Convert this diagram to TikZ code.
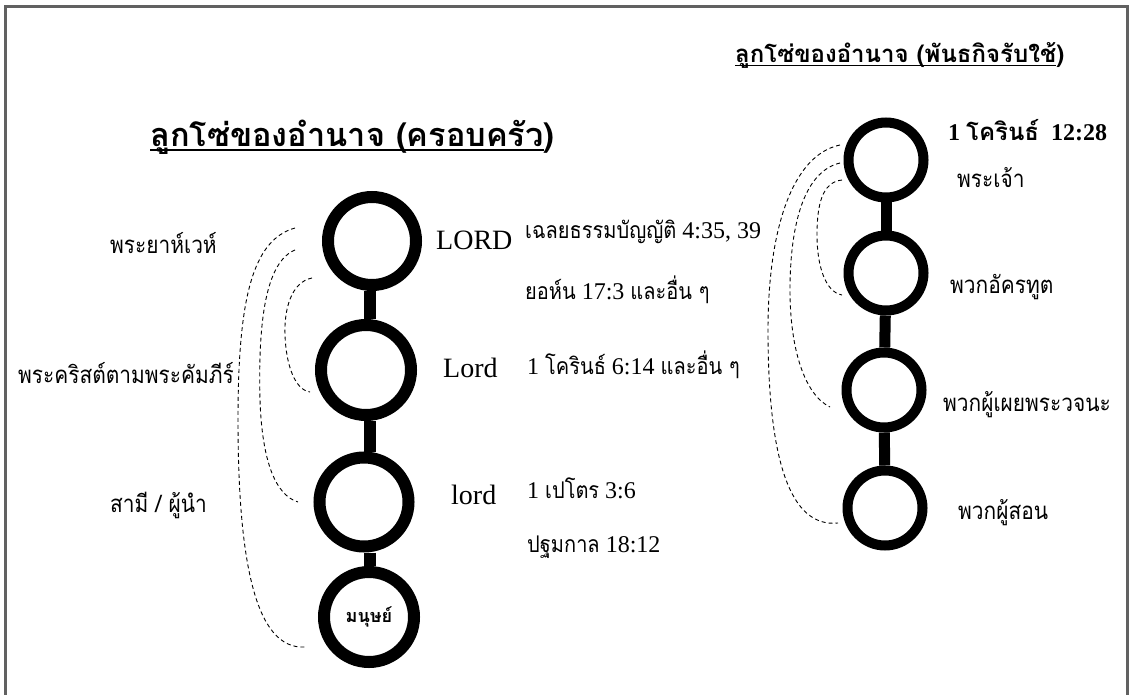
\documentclass[tikz,border=0pt]{standalone}
\usepackage{fontspec}
\setmainfont{Liberation Serif}
\newfontfamily\thai[Script=Thai, FakeStretch=0.87]{Loma}
\newfontfamily\thaiT[Script=Thai]{Loma}
\newcommand\tf[1]{{\thai #1}}
\newcommand\titleul[3]{\setbox0\hbox{#1}\rlap{\rule[-#2]{\wd0}{#3}}\box0}
\tikzset{
  ringL/.style={circle, draw, line width=12pt, minimum size=88pt, inner sep=0pt},
  ringR/.style={circle, draw, line width=10pt, minimum size=75pt, inner sep=0pt},
  barL/.style={line width=12pt},
  barR/.style={line width=11pt},
  brace/.style={dash pattern=on 4pt off 3pt, line width=0.9pt},
  thlbl/.style={anchor=west, inner sep=0pt, font=\thai\fontsize{24}{28}\selectfont},
  midlbl/.style={anchor=west, inner sep=0pt, font=\fontsize{24}{28}\selectfont},
  latlbl/.style={anchor=west, inner sep=0pt, font=\fontsize{28}{32}\selectfont},
  frame/.style={draw=black!62, line width=3pt}
}
\newcommand\tm[1]{{\thai\fontsize{23}{27}\selectfont #1}}
\begin{document}
\begin{tikzpicture}[x=1pt, y=-1pt]
\useasboundingbox (0,0) rectangle (1132,695);
\fill[white] (0,0) rectangle (1132,695);
\draw[frame] (5.5,6.5) rectangle (1127.5,720);

% titles
\node[anchor=west, inner sep=0pt, font=\thaiT\bfseries\fontsize{32.5}{38}\selectfont] (tl) at (150,137)
  {\titleul{ลูกโซ่ของอำนาจ (ครอบครัว}{5pt}{1.8pt})};
\node[anchor=west, inner sep=0pt, font=\thaiT\bfseries\fontsize{24}{28}\selectfont] (tr) at (735,55)
  {\titleul{ลูกโซ่ของอำนาจ (พันธกิจรับใช้}{4pt}{1.5pt})};
\node[anchor=west, inner sep=0pt, font=\bfseries\fontsize{24}{28}\selectfont] (ref) at (948,130)
  {1 {\thaiT โครินธ์}~ 12:28};

% left chain
\node[ringL] (c1) at (372,241) {};
\node[ringL, minimum size=90pt] (c2) at (366,370) {};
\node[ringL, minimum size=89pt] (c3) at (364,502) {};
\node[ringL, minimum size=90pt, font=\thaiT\bfseries\fontsize{18}{21}\selectfont] (c4) at (369,617) {มนุษย์};
\coordinate (lx) at (370,0);
\draw[barL] (c1.south -| lx) -- (c2.north -| lx);
\draw[barL] (c2.south -| lx) -- (c3.north -| lx);
\draw[barL] (c3.south -| lx) -- (c4.north -| lx);

% right chain
\node[ringR] (d1) at (886,160) {};
\node[ringR] (d2) at (886,273) {};
\node[ringR] (d3) at (884,390) {};
\node[ringR] (d4) at (885,508) {};
\draw[barR] (d1) -- (d2);
\draw[barR] (d2) -- (d3);
\draw[barR] (d3) -- (d4);

% left labels
\node[thlbl] (y1) at (110,243) {พระยาห์เวห์};
\node[thlbl] (y2) at (18,373) {พระคริสต์ตามพระคัมภีร์};
\node[thlbl] (y3) at (110,505) {สามี / ผู้นำ};

% english labels
\node[latlbl] (e1) at (436,240) {LORD};
\node[latlbl] (e2) at (443,368) {Lord};
\node[latlbl] (e3) at (451,495) {lord};

% references
\node[midlbl] (m1) at (525,232) {\tm{เฉลยธรรมบัญญัติ} 4:35, 39};
\node[midlbl] (m2) at (525,290) {\tm{ยอห์น} 17:3 \tm{และอื่น ๆ}};
\node[midlbl] (m3) at (527,365) {1 \tm{โครินธ์} 6:14 \tm{และอื่น ๆ}};
\node[midlbl] (m4) at (527,488) {1 \tm{เปโตร} 3:6};
\node[midlbl] (m5) at (527,547) {\tm{ปฐมกาล} 18:12};

% right labels
\node[thlbl] (r1) at (957,178) {พระเจ้า};
\node[thlbl] (r2) at (950,287) {พวกอัครทูต};
\node[thlbl] (r3) at (943,405) {พวกผู้เผยพระวจนะ};
\node[thlbl] (r4) at (958,513) {พวกผู้สอน};

% dashed braces left
\coordinate (la1) at (295,228); \coordinate (la2) at (305,647);
\coordinate (lb1) at (295,250); \coordinate (lb2) at (298,502);
\coordinate (lc1) at (312,278); \coordinate (lc2) at (310,392);
\draw[brace] (la1) .. controls (252,240) and (238,300) .. (238,420) .. controls (238,560) and (255,650) .. (la2);
\draw[brace] (lb1) .. controls (266,262) and (258,320) .. (260,400) .. controls (262,460) and (275,495) .. (lb2);
\draw[brace] (lc1) .. controls (291,282) and (284,310) .. (285,335) .. controls (286,365) and (295,390) .. (lc2);

% dashed braces right
\coordinate (ra1) at (840,145); \coordinate (ra2) at (838,523);
\coordinate (rb1) at (840,163); \coordinate (rb2) at (830,407);
\coordinate (rc1) at (842,180); \coordinate (rc2) at (842,295);
\draw[brace] (ra1) .. controls (792,155) and (768,230) .. (768,330) .. controls (768,460) and (790,528) .. (ra2);
\draw[brace] (rb1) .. controls (802,172) and (790,230) .. (790,290) .. controls (790,350) and (805,395) .. (rb2);
\draw[brace] (rc1) .. controls (822,182) and (817,205) .. (817,235) .. controls (817,265) and (825,292) .. (rc2);
\end{tikzpicture}
\end{document}
